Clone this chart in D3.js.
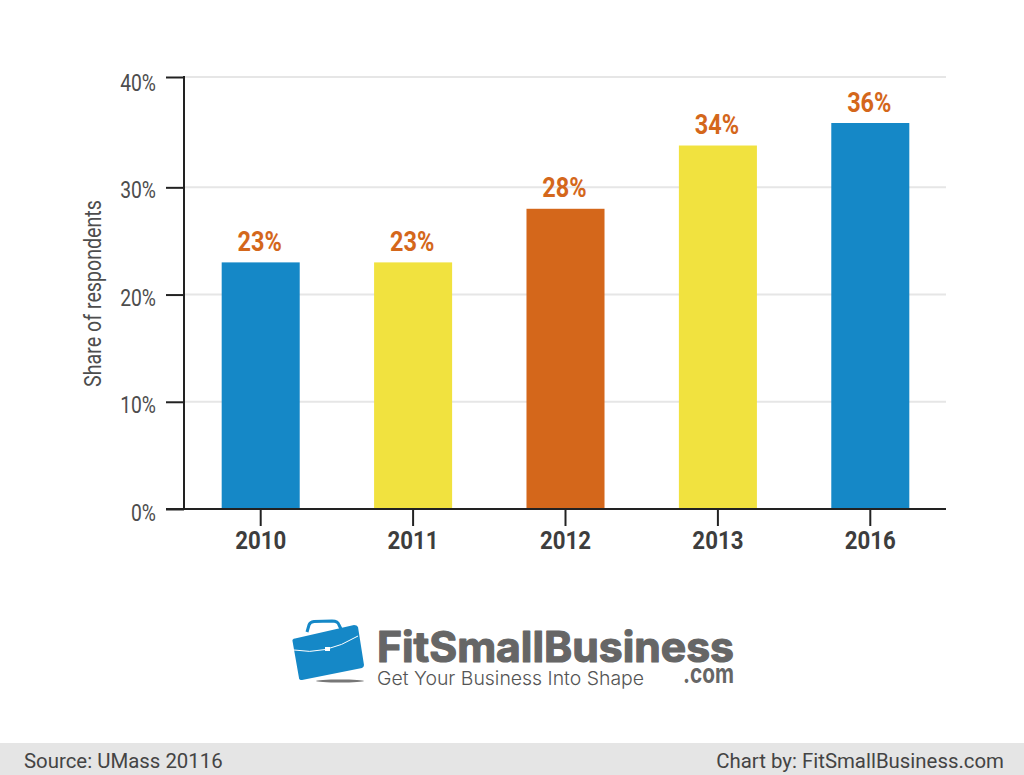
<!DOCTYPE html>
<html>
<head>
<meta charset="utf-8">
<script src="https://cdn.jsdelivr.net/npm/d3@7"></script>
<style>
  html, body { margin: 0; padding: 0; background: #fff; }
  svg { display: block; }
  text { font-family: Roboto, sans-serif; }
</style>
</head>
<body>
<svg id="chart" width="1024" height="775"></svg>
<script>
const years = ["2010", "2011", "2012", "2013", "2016"];
const shares = [23, 23, 28, 33.9, 36];
const barColors = ["#1588c7", "#f1e23f", "#d4671b", "#f1e23f", "#1588c7"];
const valueLabels = ["23%", "23%", "28%", "34%", "36%"];
const yTicks = [0, 10, 20, 30, 40];

const svg = d3.select("#chart");

const x = d3.scaleBand().domain(years).range([184.5, 946.5]).paddingInner(0.488).paddingOuter(0.244);
// the top gridline sits a little high in the original, hence the extra stop
const y = d3.scaleLinear().domain([0, 36, 40]).range([509, 123, 77]);
const yLabel = d3.scaleLinear().domain([0, 40]).range([520, 90]);

// Roboto Condensed is not installed, so squeeze Roboto horizontally
const condensed = 0.84;
function squeezed(sel, px, py, rotate) {
  return sel.attr("transform", "translate(" + px + "," + py + ")" + (rotate ? " rotate(" + rotate + ")" : "") + " scale(" + condensed + ",1)");
}

// gridlines
svg.append("g").selectAll("line").data(yTicks.slice(1)).join("line")
  .attr("x1", 184).attr("x2", 946)
  .attr("y1", d => y(d)).attr("y2", d => y(d))
  .attr("stroke", "#e6e6e6").attr("stroke-width", 2);

// bars
svg.append("g").selectAll("rect").data(years).join("rect")
  .attr("x", d => x(d))
  .attr("y", (d, i) => y(shares[i]))
  .attr("width", x.bandwidth())
  .attr("height", (d, i) => y(0) - y(shares[i]))
  .attr("fill", (d, i) => barColors[i]);

// value labels
svg.append("g").selectAll("text").data(years).join("text")
  .text((d, i) => valueLabels[i])
  .each(function (d, i) {
    squeezed(d3.select(this), x(d) + x.bandwidth() / 2 - 1, y(shares[i]) - 11.5);
  })
  .attr("text-anchor", "middle")
  .attr("font-size", 28).attr("font-weight", 700).attr("fill", "#d4671b");

// y axis
const yAxis = svg.append("g").attr("transform", "translate(184,0)")
  .call(d3.axisLeft(y).tickValues(yTicks).tickSize(18).tickPadding(0).tickFormat(d => d + "%"));
yAxis.select(".domain").attr("stroke", "#222").attr("stroke-width", 2).attr("d", "M0,76V510");
yAxis.selectAll(".tick line").attr("stroke", "#222").attr("stroke-width", 2);
yAxis.selectAll(".tick text")
  .attr("x", null).attr("dy", null)
  .attr("text-anchor", "end")
  .attr("font-size", 23).attr("fill", "#4d4d4d")
  .each(function (d) { squeezed(d3.select(this), -28, yLabel(d) - y(d)); });

// x axis
const xAxis = svg.append("g").attr("transform", "translate(0,509)")
  .call(d3.axisBottom(x).tickSize(17).tickPadding(0));
xAxis.select(".domain").attr("stroke", "#222").attr("stroke-width", 2).attr("d", "M166,0H946");
xAxis.selectAll(".tick line").attr("stroke", "#222").attr("stroke-width", 2);
xAxis.selectAll(".tick text")
  .attr("y", null).attr("dy", null)
  .attr("text-anchor", "middle")
  .attr("font-size", 26.5).attr("font-weight", 700).attr("fill", "#3d3d3d")
  .each(function () { squeezed(d3.select(this), 0, 40); });

// y axis title
svg.append("text").text("Share of respondents")
  .attr("text-anchor", "middle")
  .attr("font-size", 23.4).attr("fill", "#4d4d4d")
  .call(squeezed, 101, 293.5, -90);

// logo
const logo = svg.append("g");
logo.append("path")
  .attr("d", "M307,632 L309,625 Q310,622 314,621.500 L332,621 Q338,621 339,625 L341,629")
  .attr("fill", "none").attr("stroke", "#1588c7").attr("stroke-width", 3);
logo.append("path")
  .attr("d", "M292.500,641 Q292,639 295,638.500 L354,625 Q357,625 358,627 L364,665 Q364,667 362,668 L302,680 Q299,680 299,678 Z")
  .attr("fill", "#1588c7");
logo.append("path")
  .attr("d", "M294,650 Q325,656 358,636")
  .attr("fill", "none").attr("stroke", "#fff").attr("stroke-width", 1);
logo.append("rect").attr("x", 325).attr("y", 647).attr("width", 5).attr("height", 4).attr("fill", "#fff");
logo.append("ellipse").attr("cx", 340).attr("cy", 681).attr("rx", 24).attr("ry", 1.500).attr("fill", "#777");

logo.append("text").text("FitSmallBusiness")
  .attr("x", 377).attr("y", 662)
  .attr("textLength", 357).attr("lengthAdjust", "spacingAndGlyphs")
  .attr("font-size", 42).attr("font-weight", 700)
  .attr("fill", "#666").attr("stroke", "#666").attr("stroke-width", 1.200).attr("stroke-linejoin", "round")
  .style("font-family", "Inter, sans-serif");
logo.append("text").text("Get Your Business Into Shape")
  .attr("x", 377).attr("y", 685)
  .attr("textLength", 267).attr("lengthAdjust", "spacingAndGlyphs")
  .attr("font-size", 19).attr("font-weight", 300).attr("fill", "#555")
  .style("font-family", "Inter, sans-serif");
logo.append("text").text(".com")
  .attr("x", 683).attr("y", 683)
  .attr("textLength", 51).attr("lengthAdjust", "spacingAndGlyphs")
  .attr("font-size", 26).attr("font-weight", 700).attr("fill", "#666")
  .style("font-family", "Inter, sans-serif");

// footer band
svg.append("rect").attr("x", 0).attr("y", 743).attr("width", 1024).attr("height", 32).attr("fill", "#e5e5e5");
svg.append("text").text("Source: UMass 20116")
  .attr("x", 24).attr("y", 768).attr("font-size", 20.4).attr("fill", "#444");
svg.append("text").text("Chart by: FitSmallBusiness.com")
  .attr("x", 1004).attr("y", 768).attr("text-anchor", "end").attr("font-size", 20.4).attr("fill", "#444");
</script>
</body>
</html>
